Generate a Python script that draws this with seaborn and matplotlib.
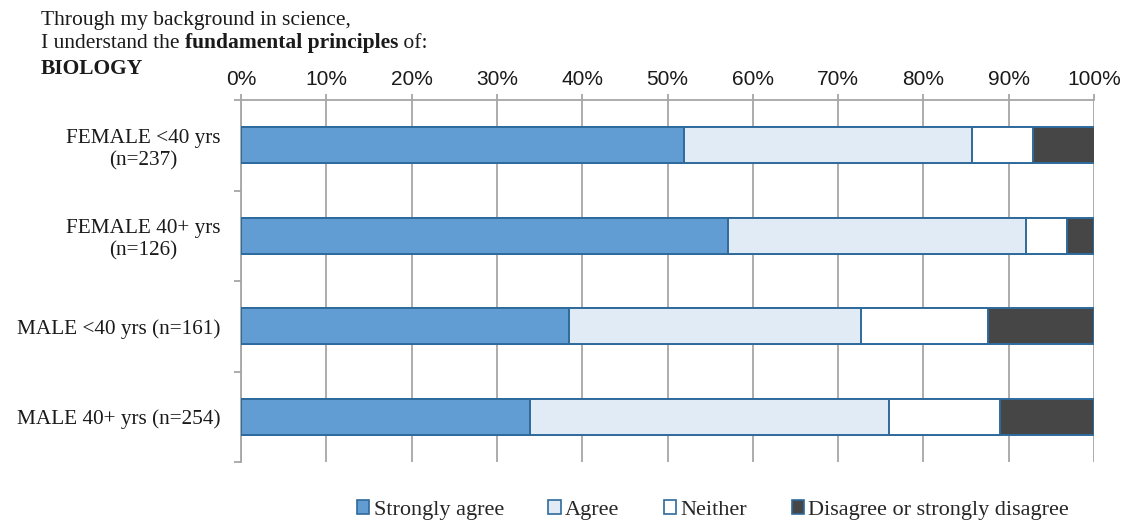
import matplotlib
matplotlib.use("Agg")
import matplotlib.pyplot as plt
from matplotlib.patches import Patch
from matplotlib.ticker import FixedLocator, PercentFormatter
import pandas as pd
import seaborn as sns

# Survey responses, share of each group (%)
groups = ["FEMALE <40 yrs\n(n=237)", "FEMALE 40+ yrs\n(n=126)",
          "MALE <40 yrs (n=161)", "MALE 40+ yrs (n=254)"]
responses = ["Strongly agree", "Agree", "Neither", "Disagree or strongly disagree"]
strongly_agree = [51.9, 57.1, 38.5, 33.9]
agree = [33.8, 34.9, 34.2, 42.1]
neither = [7.2, 4.8, 14.9, 13.0]
disagree = [7.2, 3.2, 12.4, 11.0]

colors = ["#619CD3", "#E1EBF5", "#FFFFFF", "#464646"]
edge = "#2F6A9C"
grid_gray = "#A6A6A6"
text_col = "#1a1a1a"

sns.set_theme(style="white")
serif = ["Liberation Serif", "DejaVu Serif"]
sans = ["Liberation Sans", "DejaVu Sans"]

df = pd.DataFrame({"group": groups, "Strongly agree": strongly_agree,
                   "Agree": agree, "Neither": neither,
                   "Disagree or strongly disagree": disagree})
cum = df[responses].cumsum(axis=1)

W, H = 1126, 524
fig = plt.figure(figsize=(W / 100, H / 100), dpi=100)
ax = fig.add_axes([241 / W, 1 - 462 / H, (1094 - 241) / W, (462 - 100) / H])

# stacked bars: draw cumulative totals from the widest down
for resp, col in zip(reversed(responses), reversed(colors)):
    sns.barplot(x=cum[resp], y=df["group"], orient="h", color=col,
                edgecolor=edge, linewidth=1.4, width=0.4, saturation=1,
                ax=ax, zorder=3)

ax.set_xlim(0, 100)
ax.set_ylim(3.5, -0.5)
ax.set_xlabel("")
ax.set_ylabel("")

# x axis on top with crossing ticks
ax.xaxis.set_ticks_position("top")
ax.xaxis.set_label_position("top")
ax.set_xticks(range(0, 101, 10))
ax.xaxis.set_major_formatter(PercentFormatter(decimals=0))
ax.tick_params(axis="x", which="major", top=True, bottom=False, direction="out",
               length=4.5, width=1.3, color=grid_gray, pad=3.5, labelsize=15)
for lab in ax.get_xticklabels():
    lab.set_fontfamily(sans)
    lab.set_color(text_col)

ax.grid(axis="x", color=grid_gray, linewidth=1.3, zorder=0)
ax.grid(axis="y", visible=False)
ax.set_axisbelow(True)

# y axis: labels at centres, ticks at group boundaries
ax.yaxis.set_minor_locator(FixedLocator([-0.5, 0.5, 1.5, 2.5, 3.5]))
ax.tick_params(axis="y", which="major", length=0, pad=15, labelsize=15.3)
ax.tick_params(axis="y", which="minor", left=True, direction="out",
               length=5, width=1.3, color=grid_gray)
for lab in ax.get_yticklabels():
    lab.set_fontfamily(serif)
    lab.set_color(text_col)
    lab.set_horizontalalignment("right")
    lab.set_multialignment("center")
    lab.set_linespacing(1.25)

for side in ["right", "bottom"]:
    ax.spines[side].set_visible(False)
for side in ["top", "left"]:
    ax.spines[side].set_color(grid_gray)
    ax.spines[side].set_linewidth(1.3)

# heading, with a bold phrase inside the second line
title_size = 15.5
x0 = 41 / W
fig.text(x0, 1 - 25 / H, "Through my background in science,",
         fontsize=title_size, family=serif, va="baseline", ha="left", color=text_col)
renderer = fig.canvas.get_renderer()
x = x0
for piece, weight in [("I understand the ", "normal"),
                      ("fundamental principles", "bold"),
                      (" of:", "normal")]:
    t = fig.text(x, 1 - 48 / H, piece, fontsize=title_size, family=serif,
                 fontweight=weight, va="baseline", ha="left", color=text_col)
    bb = t.get_window_extent(renderer=renderer)
    x = bb.x1 / W
fig.text(x0, 1 - 74 / H, "BIOLOGY", fontsize=title_size, family=serif,
         fontweight="bold", va="baseline", ha="left", color=text_col)

handles = [Patch(facecolor=c, edgecolor=edge, linewidth=1.2) for c in colors]
fig.legend(handles, responses, loc="center", bbox_to_anchor=(713 / W, 1 - 510 / H),
           ncol=4, frameon=False, handlelength=0.55, handleheight=0.55,
           handletextpad=0.2, columnspacing=2.0,
           prop={"family": serif, "size": 16})

fig.savefig("out.png", dpi=100)
